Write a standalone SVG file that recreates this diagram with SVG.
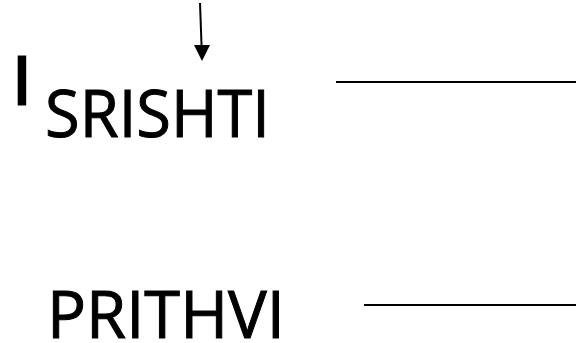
<svg xmlns="http://www.w3.org/2000/svg" width="576" height="343" viewBox="0 0 576 343">
<style>
.t{font-family:"Open Sans","Noto Sans","Liberation Sans",sans-serif;font-size:66px;fill:#000;stroke:#000;stroke-width:1}
.c{stroke:#000;stroke-width:2;fill:none}
</style>
<rect width="576" height="343" fill="#fff"/>
<g id="connectors">
<line class="c" x1="200" y1="3" x2="201.6" y2="47"/>
<polygon points="194,45 210,45 202,61" fill="#000"/>
<line class="c" x1="336" y1="82" x2="576" y2="82"/>
<line class="c" x1="364" y1="305" x2="576" y2="305"/>
</g>
<g id="node-i"><text class="t" x="22" y="104" text-anchor="middle" style="stroke-width:3">I</text></g>
<g id="node-srishti"><text class="t" x="45" y="137" textLength="225" lengthAdjust="spacingAndGlyphs">SRISHTI</text></g>
<g id="node-prithvi"><text class="t" x="47" y="338" textLength="238" lengthAdjust="spacingAndGlyphs">PRITHVI</text></g>
</svg>
